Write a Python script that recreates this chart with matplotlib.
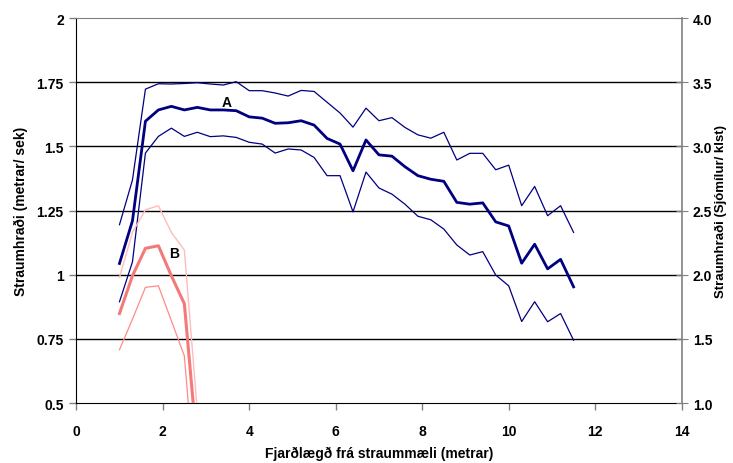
#!/usr/bin/env python3
"""Straumhraði eftir fjarlægð frá straummæli (A og B)."""

import numpy as np
import matplotlib
matplotlib.use("Agg")
import matplotlib.pyplot as plt

plt.rcParams["font.family"] = ["Liberation Sans", "DejaVu Sans"]
plt.rcParams["font.weight"] = "bold"

# Fjarlægð (m), 0.3 m bil
x_a = [1.0, 1.3, 1.6, 1.9, 2.2, 2.5, 2.8, 3.1, 3.4, 3.7, 4.0, 4.3,
       4.6, 4.9, 5.2, 5.5, 5.8, 6.1, 6.4, 6.7, 7.0, 7.3, 7.6, 7.9,
       8.2, 8.5, 8.8, 9.1, 9.4, 9.7, 10.0, 10.3, 10.6, 10.9, 11.2, 11.5]
a_mean = [1.044, 1.21, 1.598, 1.642, 1.656, 1.642, 1.652, 1.642, 1.642, 1.639, 1.615, 1.610,
          1.590, 1.592, 1.600, 1.583, 1.531, 1.509, 1.405, 1.525, 1.467, 1.462, 1.421, 1.386,
          1.372, 1.364, 1.282, 1.275, 1.280, 1.206, 1.190, 1.045, 1.119, 1.023, 1.060, 0.953]
a_upper = [1.195, 1.369, 1.723, 1.744, 1.743, 1.745, 1.748, 1.743, 1.739, 1.752, 1.717, 1.717,
           1.708, 1.696, 1.718, 1.714, 1.672, 1.630, 1.575, 1.649, 1.600, 1.612, 1.574, 1.545,
           1.532, 1.555, 1.447, 1.473, 1.473, 1.409, 1.427, 1.269, 1.344, 1.230, 1.269, 1.165]
a_lower = [0.895, 1.05, 1.474, 1.539, 1.571, 1.539, 1.555, 1.538, 1.541, 1.535, 1.516, 1.509,
           1.474, 1.490, 1.486, 1.457, 1.386, 1.386, 1.245, 1.400, 1.338, 1.314, 1.275, 1.228,
           1.214, 1.178, 1.116, 1.077, 1.090, 0.999, 0.957, 0.818, 0.895, 0.817, 0.849, 0.745]

x_b = [1.0, 1.3, 1.6, 1.9, 2.2, 2.5, 2.8]
b_mean = [0.849, 0.996, 1.103, 1.113, 0.996, 0.887, 0.32]
b_upper = [0.990, 1.165, 1.253, 1.269, 1.165, 1.096, 0.47]
b_lower = [0.708, 0.827, 0.951, 0.957, 0.821, 0.684, 0.08]

left_ticks = [0.5, 0.75, 1, 1.25, 1.5, 1.75, 2]
left_labels = ["0.5", "0.75", "1", "1.25", "1.5", "1.75", "2"]
right_ticks = [1.0, 1.5, 2.0, 2.5, 3.0, 3.5, 4.0]
x_ticks = [0, 2, 4, 6, 8, 10, 12, 14]

fig = plt.figure(figsize=(7.33, 4.64), dpi=100)
ax = fig.add_axes([0.104, 0.129, 0.826, 0.830])

for v in left_ticks[1:-1]:
    ax.axhline(v, color="black", lw=1.0, zorder=1)

navy = "#000080"
ax.plot(x_a, a_upper, color=navy, lw=0.9, zorder=3)
ax.plot(x_a, a_lower, color=navy, lw=0.9, zorder=3)
ax.plot(x_a, a_mean, color=navy, lw=2.0, zorder=4)

ax.plot(x_b, b_upper, color="#ffbcbc", lw=1.0, zorder=3)
ax.plot(x_b, b_lower, color="#ff8a8a", lw=0.9, zorder=3)
ax.plot(x_b, b_mean, color="#f47a7a", lw=2.2, zorder=4)

ax.text(3.48, 1.673, "A", fontsize=10, fontweight="bold", ha="center", va="center")
ax.text(2.27, 1.085, "B", fontsize=10, fontweight="bold", ha="center", va="center")

ax.set_xlim(0, 14)
ax.set_ylim(0.5, 2)
ax.set_xticks(x_ticks)
ax.set_yticks(left_ticks)
ax.set_yticklabels(left_labels)
ax.tick_params(axis="both", labelsize=10, length=5, width=1, color="#808080", pad=4)
ax.tick_params(axis="x", pad=10)

ax.spines["top"].set_color("#808080")
ax.spines["left"].set_color("black")
ax.spines["bottom"].set_color("black")
ax.spines["right"].set_visible(False)

ax.set_xlabel("Fjarðlægð frá straummæli (metrar)", fontsize=10, fontweight="bold", labelpad=6)
ax.set_ylabel("Straumhraði (metrar/ sek)", fontsize=10, fontweight="bold", labelpad=6)

ax2 = ax.twinx()
ax2.set_ylim(1.0, 4.0)
ax2.set_yticks(right_ticks)
ax2.set_yticklabels([f"{v:.1f}" for v in right_ticks])
ax2.tick_params(axis="y", labelsize=10, length=8, direction="inout", color="#808080", pad=4)
ax2.spines["right"].set_color("#808080")
ax2.spines["right"].set_linewidth(1.2)
for side in ("top", "left", "bottom"):
    ax2.spines[side].set_visible(False)
ax2.set_ylabel("Straumhraði (Sjómílur/ klst)", fontsize=9.5, fontweight="bold", labelpad=2)

fig.savefig("out.png", dpi=100)
